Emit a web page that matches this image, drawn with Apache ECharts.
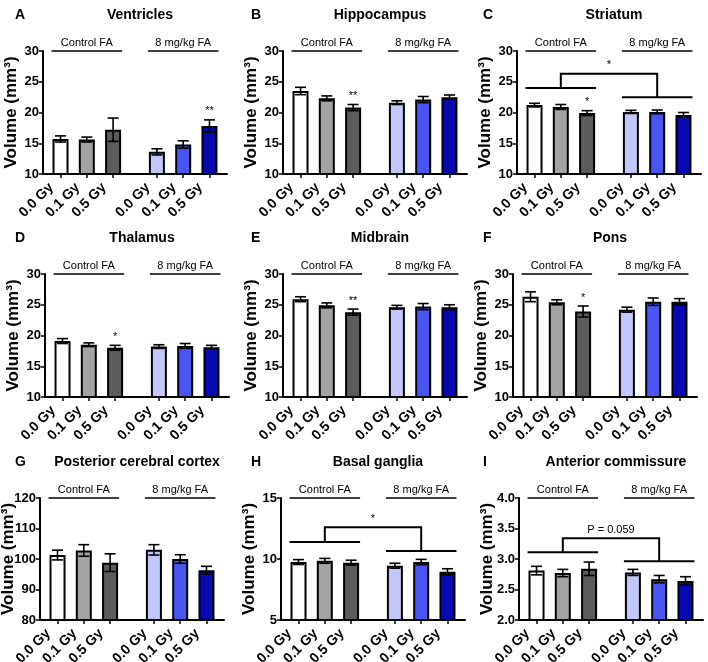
<!DOCTYPE html>
<html><head><meta charset="utf-8">
<script src="https://cdn.jsdelivr.net/npm/echarts@6/dist/echarts.min.js"></script>
<style>html,body{margin:0;padding:0;background:#fff}#c{width:708px;height:662px}</style>
</head><body><div id="c"></div>
<script>
// ---------- DATA ----------
const doseLabels = ['0.0 Gy', '0.1 Gy', '0.5 Gy'];
const groupNames = ['Control FA', '8 mg/kg FA'];
const panelLetters = ['A', 'B', 'C', 'D', 'E', 'F', 'G', 'H', 'I'];
const panelTitles = ['Ventricles', 'Hippocampus', 'Striatum', 'Thalamus', 'Midbrain', 'Pons',
  'Posterior cerebral cortex', 'Basal ganglia', 'Anterior commissure'];
const yAxisName = 'Volume (mm³)';

const ventriclesMean = [15.7, 15.6, 17.2, 13.6, 14.8, 17.8];
const ventriclesErr  = [0.5, 0.4, 1.9, 0.5, 0.6, 1.0];
const ventriclesSig  = ['', '', '', '', '', '**'];

const hippocampusMean = [23.5, 22.3, 20.8, 21.6, 22.1, 22.5];
const hippocampusErr  = [0.6, 0.4, 0.5, 0.3, 0.5, 0.35];
const hippocampusSig  = ['', '', '**', '', '', ''];

const striatumMean = [21.2, 20.9, 19.9, 20.1, 20.1, 19.6];
const striatumErr  = [0.3, 0.4, 0.4, 0.25, 0.3, 0.4];
const striatumSig  = ['', '', '*', '', '', ''];

const thalamusMean = [19.1, 18.5, 18.0, 18.2, 18.3, 18.1];
const thalamusErr  = [0.4, 0.3, 0.4, 0.3, 0.4, 0.3];
const thalamusSig  = ['', '', '*', '', '', ''];

const midbrainMean = [25.9, 24.9, 23.8, 24.6, 24.7, 24.6];
const midbrainErr  = [0.4, 0.4, 0.5, 0.3, 0.5, 0.4];
const midbrainSig  = ['', '', '**', '', '', ''];

const ponsMean = [26.3, 25.4, 23.9, 24.2, 25.5, 25.5];
const ponsErr  = [0.8, 0.4, 0.9, 0.4, 0.6, 0.5];
const ponsSig  = ['', '', '*', '', '', ''];

const cortexMean = [101.3, 102.8, 98.8, 103.0, 100.0, 96.3];
const cortexErr  = [1.6, 1.9, 2.9, 1.7, 1.4, 1.3];
const cortexSig  = ['', '', '', '', '', ''];

const gangliaMean = [9.75, 9.85, 9.7, 9.45, 9.75, 8.95];
const gangliaErr  = [0.2, 0.2, 0.2, 0.2, 0.22, 0.25];
const gangliaSig  = ['', '', '', '', '', ''];

const commissureMean = [2.81, 2.77, 2.84, 2.78, 2.67, 2.64];
const commissureErr  = [0.07, 0.06, 0.11, 0.05, 0.06, 0.07];
const commissureSig  = ['', '', '', '', '', ''];

const yMinValues  = [10, 10, 10, 10, 10, 10, 80, 5, 2];
const yMaxValues  = [30, 30, 30, 30, 30, 30, 120, 15, 4];
const yStepValues = [5, 5, 5, 5, 5, 5, 10, 5, 0.5];
const yDecimals   = [0, 0, 0, 0, 0, 0, 0, 0, 1];

// brackets: [control line level, top level, FA line level]
const striatumBracket   = [24.0, 26.3, 22.5];
const gangliaBracket    = [11.4, 12.6, 10.65];
const commissureBracket = [3.11, 3.34, 2.965];
const bracketLabels = ['*', '*', 'P = 0.059'];

// ---------- STYLE / LAYOUT ----------
const barColors = ['#ffffff', '#a3a3a3', '#5c5c5c', '#c3c6fa', '#4b56f0', '#0909b0'];
const slotOf = [2, 5, 8, 13, 16, 19];
const nSlots = 22;
const gridLefts = [43, 283, 517, 45, 283, 513, 40, 281, 519];
const gridTops  = [51, 51, 51, 274, 274, 274, 498, 498, 498];
const gridH     = [123, 123, 123, 123, 123, 123, 122, 122, 122];
const gridW = 184;
const titleY = [3, 3, 3, 226, 226, 226, 450, 450, 450];
const letterX = [10, 246, 478, 10, 246, 478, 10, 246, 478];
const FONT = 'Arial, "Liberation Sans", sans-serif';
const barW = 16;

const means = [ventriclesMean, hippocampusMean, striatumMean, thalamusMean, midbrainMean, ponsMean, cortexMean, gangliaMean, commissureMean];
const errs  = [ventriclesErr, hippocampusErr, striatumErr, thalamusErr, midbrainErr, ponsErr, cortexErr, gangliaErr, commissureErr];
const sigs  = [ventriclesSig, hippocampusSig, striatumSig, thalamusSig, midbrainSig, ponsSig, cortexSig, gangliaSig, commissureSig];
const brackets = {2: [striatumBracket, bracketLabels[0]], 7: [gangliaBracket, bracketLabels[1]], 8: [commissureBracket, bracketLabels[2]]};

const categories = [];
for (let i = 0; i < nSlots; i++) {
  const k = slotOf.indexOf(i);
  categories.push(k >= 0 ? doseLabels[k % 3] : '');
}

const grids = [], xAxes = [], yAxes = [], series = [], titles = [];

for (let p = 0; p < 9; p++) {
  grids.push({ left: gridLefts[p], top: gridTops[p], width: gridW, height: gridH[p], containLabel: false,
    outerBounds: { left: -300, top: -300, right: -300, bottom: -300 } });
  titles.push({ text: panelTitles[p], left: gridLefts[p] + gridW / 2, top: titleY[p], textAlign: 'center',
    textStyle: { fontFamily: FONT, fontSize: 14, fontWeight: 'bold', color: '#000' } });
  titles.push({ text: panelLetters[p], left: letterX[p], top: titleY[p], textStyle: { fontFamily: FONT, fontSize: 14, fontWeight: 'bold', color: '#000' } });

  xAxes.push({
    type: 'category', gridIndex: p, data: categories, boundaryGap: false,
    axisLine: { lineStyle: { color: '#000', width: 2 } },
    axisTick: { length: 4, lineStyle: { color: '#000', width: 1.5 }, interval: (i, v) => v !== '' },
    axisLabel: { interval: (i, v) => v !== '', rotate: 45, margin: 2, padding: [0, 13, 0, 0], color: '#000', fontFamily: FONT, fontSize: 14, fontWeight: 'bold' },
    splitLine: { show: false }
  });
  const dec = yDecimals[p];
  yAxes.push({
    type: 'value', gridIndex: p, min: yMinValues[p], max: yMaxValues[p], interval: yStepValues[p],
    name: yAxisName, nameLocation: 'middle', nameGap: 23, nameMoveOverlap: false,
    nameTextStyle: { fontFamily: FONT, fontSize: 17, fontWeight: 'bold', color: '#000' },
    axisLine: { show: true, lineStyle: { color: '#000', width: 2 } },
    axisTick: { show: true, length: 4, lineStyle: { color: '#000', width: 1.5 } },
    axisLabel: { margin: 4, color: '#000', fontFamily: FONT, fontSize: 13, fontWeight: 'bold', formatter: v => v.toFixed(dec) },
    splitLine: { show: false }
  });

  const barData = categories.map(() => '-');
  const errData = [], sigData = [];
  for (let k = 0; k < 6; k++) {
    barData[slotOf[k]] = { value: means[p][k], itemStyle: { color: barColors[k] } };
    errData.push([slotOf[k], means[p][k] - errs[p][k], means[p][k] + errs[p][k]]);
    if (sigs[p][k]) sigData.push([slotOf[k], means[p][k] + errs[p][k], sigs[p][k]]);
  }
  series.push({
    type: 'bar', xAxisIndex: p, yAxisIndex: p, data: barData, barWidth: barW,
    itemStyle: { borderColor: '#000', borderWidth: 2 }, silent: true, animation: false
  });
  series.push({
    type: 'custom', xAxisIndex: p, yAxisIndex: p, data: errData, encode: { x: 0, y: [1, 2] },
    animation: false, silent: true, clip: false, z: 5,
    renderItem: (params, api) => {
      const x = api.value(0);
      const a = api.coord([x, api.value(1)]), b = api.coord([x, api.value(2)]);
      const cw = 5.5, st = { stroke: '#000', lineWidth: 1.6 };
      return { type: 'group', children: [
        { type: 'line', shape: { x1: a[0], y1: a[1], x2: b[0], y2: b[1] }, style: st },
        { type: 'line', shape: { x1: a[0] - cw, y1: a[1], x2: a[0] + cw, y2: a[1] }, style: st },
        { type: 'line', shape: { x1: b[0] - cw, y1: b[1], x2: b[0] + cw, y2: b[1] }, style: st }
      ] };
    }
  });
  if (sigData.length) {
    const sd = sigData;
    series.push({
      type: 'custom', xAxisIndex: p, yAxisIndex: p, data: sd.map(d => [d[0], d[1]]), encode: { x: 0, y: 1 },
      animation: false, silent: true, clip: false, z: 6,
      renderItem: (params, api) => {
        const c = api.coord([api.value(0), api.value(1)]);
        return { type: 'text', x: c[0], y: c[1] - 3, style: { text: sd[params.dataIndex][2], textAlign: 'center', textVerticalAlign: 'bottom', fontFamily: FONT, fontSize: 11, fill: '#000' } };
      }
    });
  }
  // group headers
  const ymax = yMaxValues[p];
  series.push({
    type: 'custom', xAxisIndex: p, yAxisIndex: p, data: [[slotOf[0], ymax], [slotOf[3], ymax]], encode: { x: 0, y: 1 },
    animation: false, silent: true, clip: false, z: 6,
    renderItem: (params, api) => {
      const g = params.dataIndex;
      const l = api.coord([slotOf[3 * g], ymax]), r = api.coord([slotOf[3 * g + 2], ymax]);
      return { type: 'group', children: [
        { type: 'line', shape: { x1: l[0] - barW / 2 - 1, y1: l[1], x2: r[0] + barW / 2 + 1, y2: r[1] }, style: { stroke: '#000', lineWidth: 1.5 } },
        { type: 'text', x: (l[0] + r[0]) / 2, y: l[1] - 3, style: { text: groupNames[g], textAlign: 'center', textVerticalAlign: 'bottom', fontFamily: FONT, fontSize: 11, fill: '#000' } }
      ] };
    }
  });
  if (brackets[p]) {
    const bk = brackets[p][0], lab = brackets[p][1];
    series.push({
      type: 'custom', xAxisIndex: p, yAxisIndex: p, data: [[slotOf[1], bk[1]]], encode: { x: 0, y: 1 },
      animation: false, silent: true, clip: false, z: 6,
      renderItem: (params, api) => {
        const c0 = api.coord([slotOf[0], bk[0]]), c2 = api.coord([slotOf[2], bk[0]]);
        const f0 = api.coord([slotOf[3], bk[2]]), f2 = api.coord([slotOf[5], bk[2]]);
        const cm = api.coord([slotOf[1], bk[1]]), fm = api.coord([slotOf[4], bk[1]]);
        const st = { stroke: '#000', lineWidth: 2, fill: null };
        const h = barW / 2 + 1;
        return { type: 'group', children: [
          { type: 'line', shape: { x1: c0[0] - h, y1: c0[1], x2: c2[0] + h, y2: c2[1] }, style: st },
          { type: 'line', shape: { x1: f0[0] - h, y1: f0[1], x2: f2[0] + h, y2: f2[1] }, style: st },
          { type: 'polyline', shape: { points: [[cm[0], c0[1]], [cm[0], cm[1]], [fm[0], fm[1]], [fm[0], f0[1]]] }, style: st },
          { type: 'text', x: (cm[0] + fm[0]) / 2, y: cm[1] - 3, style: { text: lab, textAlign: 'center', textVerticalAlign: 'bottom', fontFamily: FONT, fontSize: 11, fill: '#000' } }
        ] };
      }
    });
  }
}

const chart = echarts.init(document.getElementById('c'), null, { renderer: 'canvas' });
chart.setOption({ animation: false, backgroundColor: '#fff', title: titles, grid: grids, xAxis: xAxes, yAxis: yAxes, series: series });
</script>
</body></html>
